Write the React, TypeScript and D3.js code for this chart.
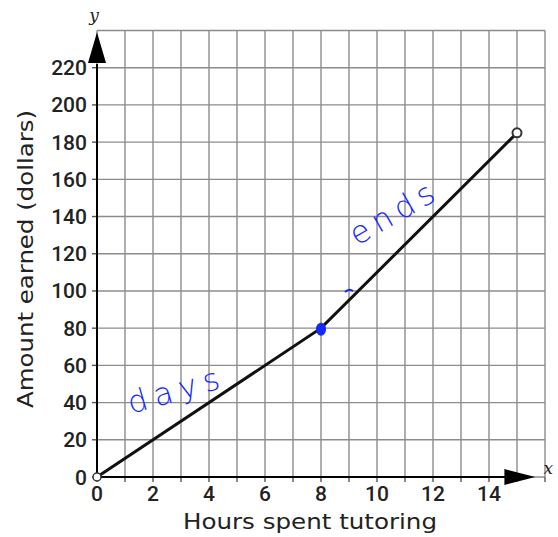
import React from 'react';
import * as d3 from 'd3';

// piecewise earnings line
const hours = [0, 8, 15];
const dollars = [0, 80, 185];
const xTicks = [0, 2, 4, 6, 8, 10, 12, 14];
const yTicks = [0, 20, 40, 60, 80, 100, 120, 140, 160, 180, 200, 220];
const xGrid = d3.range(0, 17, 1);
const yGrid = d3.range(0, 241, 20);

const W = 558;
const H = 537;

const App: React.FC = () => {
  const x = d3.scaleLinear().domain([0, 16]).range([97, 545]);
  const y = d3.scaleLinear().domain([0, 240]).range([477, 30.5]);

  const pts: [number, number][] = hours.map((h, i) => [h, dollars[i]]);
  const line = d3.line<[number, number]>()
    .x(d => x(d[0]))
    .y(d => y(d[1]));

  const tickFont = { fontFamily: 'Roboto, Liberation Sans, sans-serif', fontSize: 21, fontWeight: 500, fill: '#222' };
  const titleFont = { fontFamily: 'DejaVu Sans, sans-serif', fontSize: 21, fill: '#222' };
  const ink = '#1428ff';
  const hand = { fontFamily: 'DejaVu Sans, sans-serif', fontWeight: 200, fontSize: 31, fill: ink };

  const x0 = x(0);
  const y0 = y(0);

  return (
    <div style={{ position: 'fixed', left: 0, top: 0 }}>
      <svg width={W} height={H} style={{ display: 'block', background: '#fff' }}>
        {/* grid */}
        <g stroke="#8c8c8c" strokeWidth={1.4}>
          {xGrid.map(v => (
            <line key={'gx' + v} x1={x(v)} x2={x(v)} y1={y(240)} y2={y0} />
          ))}
          {yGrid.map(v => (
            <line key={'gy' + v} x1={x0} x2={x(16)} y1={y(v)} y2={y(v)} />
          ))}
        </g>

        {/* small ticks */}
        <g stroke="#555" strokeWidth={1.4}>
          {xGrid.map(v => (
            <line key={'tx' + v} x1={x(v)} x2={x(v)} y1={y0} y2={y0 + 5} />
          ))}
          {yTicks.map(v => (
            <line key={'ty' + v} x1={x0 - 5} x2={x0} y1={y(v)} y2={y(v)} />
          ))}
        </g>

        {/* axes */}
        <line x1={x0} x2={x(14.6)} y1={y0} y2={y0} stroke="#000" strokeWidth={2} />
        <line x1={x0} x2={x0} y1={y0} y2={y(222)} stroke="#000" strokeWidth={2} />
        <path
          d={`M${x(14.55)},${y0 - 8} L${x(15.65)},${y0} L${x(14.55)},${y0 + 8} Z`}
          fill="#000"
        />
        <path
          d={`M${x0 - 9},${y(222.5)} L${x0},${y(239)} L${x0 + 9},${y(222.5)} Z`}
          fill="#000"
        />
        <text x={x(15.95)} y={y0 - 3} fontFamily="DejaVu Serif, serif" fontStyle="italic" fontSize={17} fill="#222">x</text>
        <text x={x0 - 3} y={y(240) - 10} textAnchor="middle" fontFamily="DejaVu Serif, serif" fontStyle="italic" fontSize={17} fill="#222">y</text>

        {/* tick labels */}
        {xTicks.map(v => (
          <text key={'lx' + v} x={x(v)} y={y0 + 24} textAnchor="middle" {...tickFont}>
            {v}
          </text>
        ))}
        {yTicks.map(v => (
          <text key={'ly' + v} x={x0 - 10} y={y(v) + 7.5} textAnchor="end" {...tickFont}>
            {v}
          </text>
        ))}

        {/* titles */}
        <text x={310} y={529} textAnchor="middle" {...titleFont} textLength={254} lengthAdjust="spacingAndGlyphs">
          Hours spent tutoring
        </text>
        <text
          transform="translate(33,259) rotate(-90)"
          textAnchor="middle"
          {...titleFont}
          textLength={298}
          lengthAdjust="spacingAndGlyphs"
        >
          Amount earned (dollars)
        </text>

        {/* data line */}
        <path d={line(pts) || ''} fill="none" stroke="#111" strokeWidth={3} />
        <circle cx={x(hours[0])} cy={y(dollars[0])} r={4} fill="#fff" stroke="#333" strokeWidth={1.5} />
        <circle cx={x(hours[2])} cy={y(dollars[2])} r={4.5} fill="#fff" stroke="#333" strokeWidth={2} />

        {/* handwritten notes */}
        <ellipse cx={x(8)} cy={y(80) + 1} rx={5} ry={6.5} fill={ink} />
        <path d="M345,292 q4,-4 8,-1" fill="none" stroke={ink} strokeWidth={2} />
        <text transform="translate(131,414) rotate(-16)" {...hand} letterSpacing={7}>
          days
        </text>
        <text transform="translate(357,246) rotate(-30)" {...hand} letterSpacing={6}>
          ends
        </text>
      </svg>
    </div>
  );
};

export default App;
